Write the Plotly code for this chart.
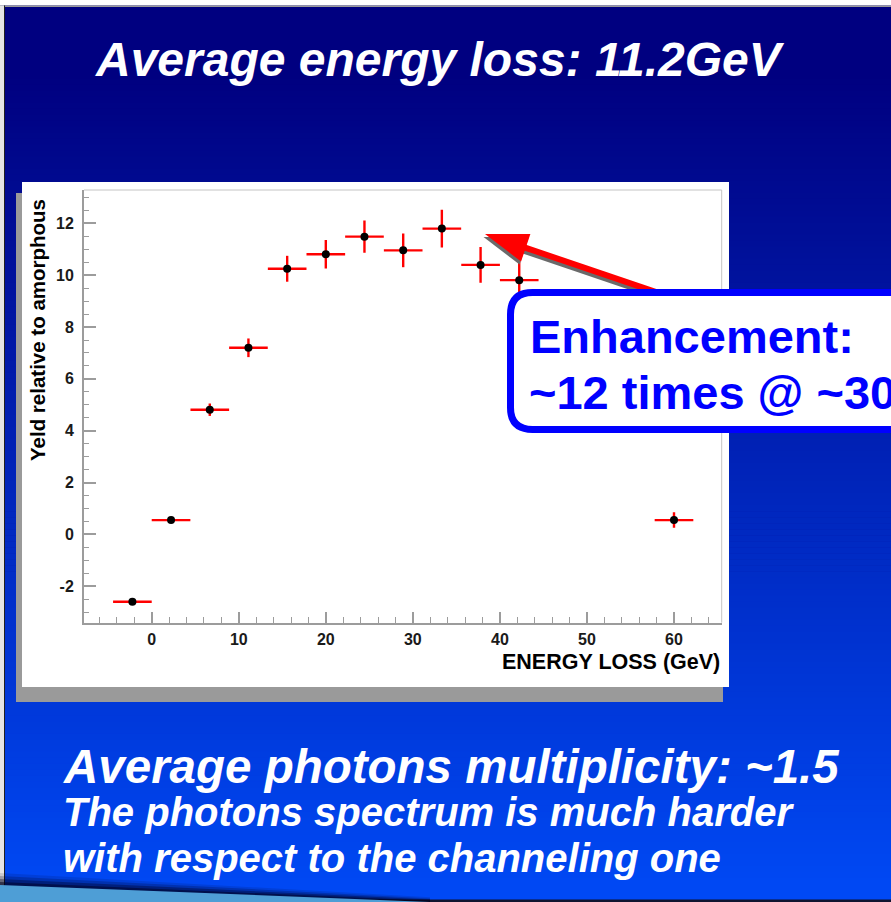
import plotly.graph_objects as go

# ---- data -----------------------------------------------------------------
energy_loss = [-2.22, 2.22, 6.67, 11.11, 15.56, 20.0, 24.44, 28.89, 33.33, 37.78, 42.22, 60.0]
yield_ratio = [-2.60, 0.55, 4.81, 7.20, 10.25, 10.81, 11.49, 10.96, 11.80, 10.40, 9.81, 0.55]
yield_err = [0.08, 0.08, 0.24, 0.36, 0.50, 0.55, 0.62, 0.65, 0.73, 0.69, 0.75, 0.30]
bin_halfwidth = [2.22] * len(energy_loss)

x_ticks = [0, 10, 20, 30, 40, 50, 60]
x_labels = ["0", "10", "20", "30", "40", "50", "60"]
y_ticks = [-2, 0, 2, 4, 6, 8, 10, 12]
y_labels = ["-2", "0", "2", "4", "6", "8", "10", "12"]

W, H = 891, 902
FONT = "Liberation Sans, Arial, Helvetica, sans-serif"


def px(x):
    return x / W


def py(y):
    return 1 - y / H


def poly(points):
    return "M " + " L ".join(f"{px(x):.5f},{py(y):.5f}" for x, y in points) + " Z"


shapes = []

# slide background: vertical navy -> blue gradient built from thin bands
n_bands = 150
top_c, bot_c = (0, 0, 128), (0, 74, 246)
for i in range(n_bands):
    y0 = i * H / n_bands
    y1 = (i + 1) * H / n_bands + 0.6
    t = max(0.0, (y0 - 70) / (H - 70))
    c = tuple(round(a + (b - a) * t) for a, b in zip(top_c, bot_c))
    shapes.append(dict(type="rect", xref="paper", yref="paper", layer="below",
                       x0=0, x1=1, y0=py(y1), y1=py(y0), line_width=0,
                       fillcolor=f"rgb{c}"))

# frame strips at the slide edges
shapes += [
    dict(type="rect", xref="paper", yref="paper", layer="below",
         x0=0, x1=1, y0=py(5.5), y1=1, line_width=0, fillcolor="#ffffff"),
    dict(type="rect", xref="paper", yref="paper", layer="below",
         x0=0, x1=1, y0=py(7), y1=py(5.5), line_width=0, fillcolor="#9a9a9a"),
    dict(type="rect", xref="paper", yref="paper", layer="below",
         x0=0, x1=px(4), y0=0, y1=py(5.5), line_width=0, fillcolor="#e4e4e4"),
    dict(type="rect", xref="paper", yref="paper", layer="below",
         x0=px(4), x1=px(5), y0=0, y1=py(5.5), line_width=0, fillcolor="#202020"),
    dict(type="rect", xref="paper", yref="paper", layer="below",
         x0=0, x1=1, y0=0, y1=py(899.5), line_width=0, fillcolor="#101530"),
]

# bottom-left decorative wedge with its soft shadow
for k, alpha in enumerate([0.12, 0.22, 0.35, 0.5]):
    off = 12 - 3 * k
    shapes.append(dict(type="path", xref="paper", yref="paper", layer="below",
                       path=poly([(0, 885 - off), (430, 902 - off * 0.4), (430, 902), (0, 902)]),
                       line_width=0, fillcolor=f"rgba(0,0,30,{alpha})"))
shapes.append(dict(type="path", xref="paper", yref="paper", layer="below",
                   path=poly([(0, 885), (430, 902), (0, 902)]),
                   line_width=0, fillcolor="rgb(78,158,214)"))

# chart panel: grey drop shadow and white canvas
shapes.append(dict(type="rect", xref="paper", yref="paper", layer="below",
                   x0=px(16), x1=px(723), y0=py(702), y1=py(193),
                   line_width=0, fillcolor="#9a9a9a"))
shapes.append(dict(type="rect", xref="paper", yref="paper", layer="below",
                   x0=px(22), x1=px(729), y0=py(687), y1=py(182),
                   line_width=0, fillcolor="#ffffff"))

# top / right frame of the plot area
shapes.append(dict(type="line", xref="x domain", yref="y domain", layer="below",
                   x0=0, x1=1, y0=1, y1=1, line=dict(color="#c4c4c4", width=1)))
shapes.append(dict(type="line", xref="x domain", yref="y domain", layer="below",
                   x0=1, x1=1, y0=0, y1=1, line=dict(color="#c4c4c4", width=1)))

# red arrow with grey shadow pointing at the maximum
tip = (485.0, 234.0)
tail_dir = (165.0, 56.0)
L = (tail_dir[0] ** 2 + tail_dir[1] ** 2) ** 0.5
u = (tail_dir[0] / L, tail_dir[1] / L)
n = (-u[1], u[0])
head_len, head_half, shaft_half = 43.0, 14.5, 3.0


def arrow_paths(dx, dy):
    tx, ty = tip[0] + dx, tip[1] + dy
    bx, by = tx + head_len * u[0], ty + head_len * u[1]
    head = [(tx, ty),
            (bx + head_half * n[0], by + head_half * n[1]),
            (bx - head_half * n[0], by - head_half * n[1])]
    sx, sy = bx - 3 * u[0], by - 3 * u[1]
    ex, ey = tx + 215 * u[0], ty + 215 * u[1]
    shaft = [(sx + shaft_half * n[0], sy + shaft_half * n[1]),
             (ex + shaft_half * n[0], ey + shaft_half * n[1]),
             (ex - shaft_half * n[0], ey - shaft_half * n[1]),
             (sx - shaft_half * n[0], sy - shaft_half * n[1])]
    return poly(head), poly(shaft)


for (dx, dy), col in [((-1.5, 3.0), "#6a6a6a"), ((0, 0), "#ff0000")]:
    hp, sp = arrow_paths(dx, dy)
    for p in (sp, hp):
        shapes.append(dict(type="path", xref="paper", yref="paper", layer="above",
                           path=p, line_width=0, fillcolor=col))

# rounded callout box
x0b, x1b, y0b, y1b, r = 510.5, 910.0, 292.5, 429.5, 22.0
box = (f"M {px(x0b + r):.5f},{py(y0b):.5f} L {px(x1b):.5f},{py(y0b):.5f} "
       f"L {px(x1b):.5f},{py(y1b):.5f} L {px(x0b + r):.5f},{py(y1b):.5f} "
       f"Q {px(x0b):.5f},{py(y1b):.5f} {px(x0b):.5f},{py(y1b - r):.5f} "
       f"L {px(x0b):.5f},{py(y0b + r):.5f} "
       f"Q {px(x0b):.5f},{py(y0b):.5f} {px(x0b + r):.5f},{py(y0b):.5f} Z")
shapes.append(dict(type="path", xref="paper", yref="paper", layer="above",
                   path=box, fillcolor="#ffffff", line=dict(color="#0000ff", width=7)))

# ---- text -----------------------------------------------------------------
annotations = [
    dict(text="Average energy loss: 11.2GeV", x=px(440), y=py(59),
         font=dict(family=FONT, size=48, color="white", weight="bold", style="italic")),
    dict(text="Average photons multiplicity: ~1.5", x=px(61), y=py(766), xanchor="left",
         font=dict(family=FONT, size=47.5, color="white", weight="bold", style="italic")),
    dict(text="The photons spectrum is much harder", x=px(61), y=py(812), xanchor="left",
         font=dict(family=FONT, size=40, color="white", weight="bold", style="italic")),
    dict(text="with respect to the channeling one", x=px(61), y=py(858), xanchor="left",
         font=dict(family=FONT, size=40, color="white", weight="bold", style="italic")),
    dict(text="Enhancement:", x=px(528), y=py(337), xanchor="left",
         font=dict(family=FONT, size=47, color="#0000ff", weight="bold")),
    dict(text="~12 times @ ~30 GeV", x=px(527), y=py(392), xanchor="left",
         font=dict(family=FONT, size=47, color="#0000ff", weight="bold")),
    dict(text="Yeld relative to amorphous", x=px(37), y=py(330), textangle=-90,
         font=dict(family=FONT, size=20.5, color="black", weight="bold")),
    dict(text="ENERGY LOSS (GeV)", x=px(722), y=py(662), xanchor="right",
         font=dict(family=FONT, size=21.5, color="black", weight="bold")),
]
for a in annotations:
    a.update(xref="paper", yref="paper", showarrow=False)
    a.setdefault("xanchor", "center")
    a.setdefault("yanchor", "middle")

# ---- figure ---------------------------------------------------------------
fig = go.Figure()
fig.add_trace(go.Scatter(
    x=energy_loss, y=yield_ratio, mode="markers",
    marker=dict(color="black", size=8),
    error_x=dict(type="data", array=bin_halfwidth, color="#ff0000", thickness=2.4, width=0),
    error_y=dict(type="data", array=yield_err, color="#ff0000", thickness=2.4, width=0),
    showlegend=False, hoverinfo="skip",
))

axis_common = dict(
    showgrid=False, zeroline=False, showline=True, linecolor="#9c9c9c", linewidth=2,
    ticks="inside", tickcolor="#9c9c9c", tickwidth=1.5,
    tickfont=dict(family=FONT, size=16, color="#1a1a1a", weight="bold"),
)

fig.update_layout(
    width=W, height=H,
    margin=dict(l=0, r=0, t=0, b=0),
    paper_bgcolor="rgb(0,0,128)",
    plot_bgcolor="rgba(0,0,0,0)",
    shapes=shapes,
    annotations=annotations,
    xaxis=dict(axis_common, domain=[px(84), px(721.7)], range=[-7.78, 65.48],
               tickvals=x_ticks, ticktext=x_labels, ticklen=11, ticklabelstandoff=1,
               minor=dict(ticks="inside", dtick=2, tick0=0, ticklen=6,
                          tickcolor="#9c9c9c", tickwidth=1, showgrid=False)),
    yaxis=dict(axis_common, domain=[py(622.7), py(190)], range=[-3.41, 13.29],
               tickvals=y_ticks, ticktext=y_labels, ticklen=12, ticklabelstandoff=5,
               minor=dict(ticks="inside", dtick=0.5, tick0=0, ticklen=5,
                          tickcolor="#9c9c9c", tickwidth=1, showgrid=False)),
)

fig.write_html("out.html")
